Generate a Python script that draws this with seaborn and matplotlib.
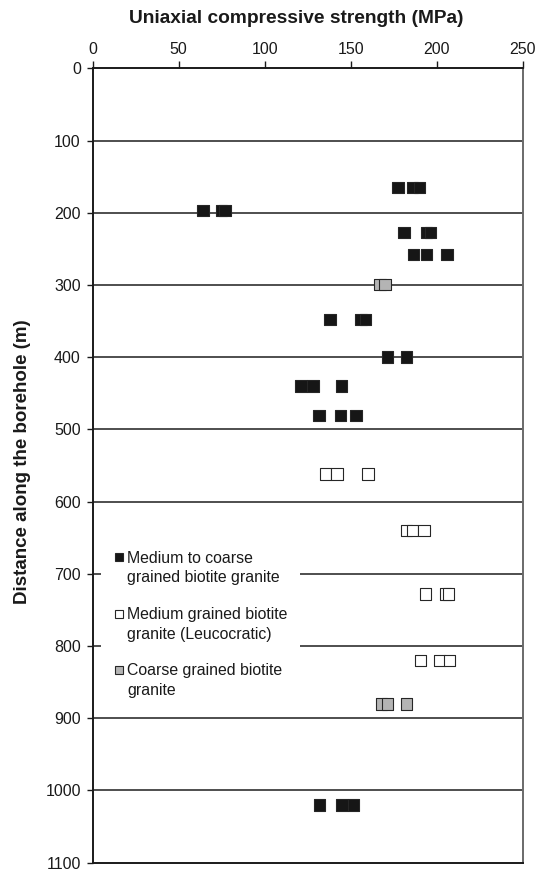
import matplotlib
matplotlib.use("Agg")
import matplotlib.pyplot as plt
import seaborn as sns
import pandas as pd
from matplotlib.lines import Line2D

# ---- data ----
categories = [
    "Medium to coarse\ngrained biotite granite",
    "Medium grained biotite\ngranite (Leucocratic)",
    "Coarse grained biotite\ngranite",
]

black_depth = [165, 165, 165, 197, 197, 197, 227, 227, 227, 258, 258, 258,
               348, 348, 348, 400, 400, 440, 440, 440, 481, 481, 481,
               1020, 1020, 1020]
black_ucs = [177.5, 186, 190, 64, 75, 77, 181, 194, 196.5, 186.5, 194, 206,
             138, 156, 158.5, 171.5, 182.5, 121, 128, 144.5, 131.5, 144, 153,
             132, 145, 151.5]

white_depth = [562, 562, 562, 640, 640, 640, 728, 728, 728, 820, 820, 820]
white_ucs = [135.5, 142, 160, 182.5, 186, 192.5, 193.5, 205, 207,
             190.5, 201.5, 207.5]

gray_depth = [299, 299, 880, 880, 880]
gray_ucs = [167, 170, 168, 171.5, 182.5]

x_ticks = [0, 50, 100, 150, 200, 250]
y_ticks = [0, 100, 200, 300, 400, 500, 600, 700, 800, 900, 1000, 1100]

colors = {categories[0]: "#161616", categories[1]: "#ffffff", categories[2]: "#b4b4b4"}

df = pd.concat([
    pd.DataFrame({"ucs": black_ucs, "depth": black_depth, "type": categories[0]}),
    pd.DataFrame({"ucs": white_ucs, "depth": white_depth, "type": categories[1]}),
    pd.DataFrame({"ucs": gray_ucs, "depth": gray_depth, "type": categories[2]}),
], ignore_index=True)

sns.set_style("white")
plt.rcParams["font.family"] = ["Liberation Sans", "DejaVu Sans"]

fig = plt.figure(figsize=(5.42, 8.72), dpi=100)
ax = fig.add_axes([92.7 / 542, 1 - 862.7 / 872, (522.7 - 92.7) / 542, (862.7 - 68.3) / 872])

# horizontal grid lines
for yv in y_ticks[1:-1]:
    ax.axhline(yv, color="#1e1e1e", lw=1.1, zorder=1)

sns.scatterplot(data=df, x="ucs", y="depth", hue="type", palette=colors,
                marker="s", s=68, edgecolor="#262626", linewidth=0.8,
                legend=False, ax=ax, zorder=3)

ax.set_xlim(0, 250)
ax.set_ylim(1100, 0)
ax.set_xticks(x_ticks)
ax.set_yticks(y_ticks)
ax.xaxis.tick_top()
ax.xaxis.set_label_position("top")
ax.tick_params(axis="x", direction="out", length=4.7, width=1, pad=3.4, labelsize=11.5, colors="#1a1a1a")
ax.tick_params(axis="y", direction="out", length=4.3, width=1, pad=4.3, labelsize=11.5, colors="#1a1a1a")
ax.tick_params(axis="both", bottom=False, top=True, left=True, right=False)

ax.set_xlabel("Uniaxial compressive strength (MPa)", fontsize=13.8, fontweight="bold",
              color="#1a1a1a")
ax.set_ylabel("Distance along the borehole (m)", fontsize=13.5, fontweight="bold",
              color="#1a1a1a")
ax.xaxis.set_label_coords((296.5 - 92.7) / 430, (862.7 - 23) / 794.4)
ax.yaxis.set_label_coords((31 - 92.7) / 430, (862.7 - 461.5) / 794.4)

for side in ["left", "top", "bottom"]:
    ax.spines[side].set_color("#1a1a1a")
    ax.spines[side].set_linewidth(1.4)
ax.spines["right"].set_color("#6a6a6a")
ax.spines["right"].set_linewidth(1.4)

handles = [Line2D([], [], marker="s", linestyle="none", markersize=6,
                  markerfacecolor=colors[c], markeredgecolor="#262626", markeredgewidth=0.8)
           for c in categories]
leg = ax.legend(handles, categories, loc="upper left", bbox_to_anchor=(0.02, 0.4086),
                bbox_transform=ax.transAxes, frameon=True, fontsize=11.4,
                handlelength=0.6, handleheight=1.1, handletextpad=0.22,
                labelspacing=1.38, borderpad=0.8, borderaxespad=0)
leg.get_frame().set_facecolor("white")
leg.get_frame().set_edgecolor("none")
leg.get_frame().set_alpha(1)
leg.set_zorder(5)
for t in leg.get_texts():
    t.set_color("#1a1a1a")
    t.set_linespacing(1.37)
# put each handle next to the first line of its label
try:
    for col in leg._legend_handle_box.get_children():
        for item in col.get_children():
            item.align = "top"
except Exception:
    pass

fig.savefig("out.png", dpi=100)
